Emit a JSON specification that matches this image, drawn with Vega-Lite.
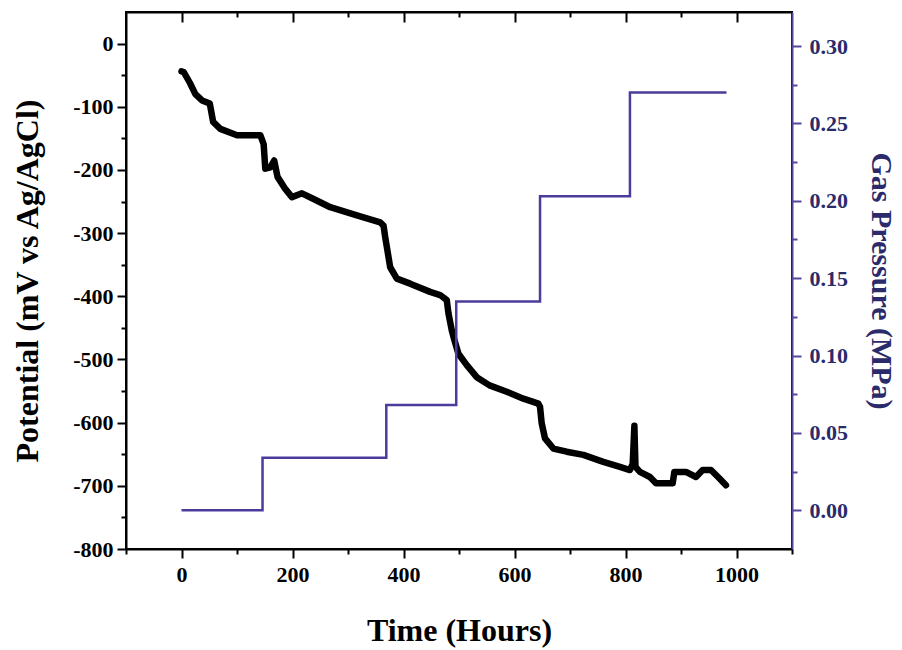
{
  "$schema": "https://vega.github.io/schema/vega-lite/v6.json",
  "width": 666,
  "height": 537,
  "autosize": {"type": "none"},
  "padding": {"left": 126, "top": 12, "right": 110, "bottom": 101},
  "background": "white",
  "config": {
    "view": {"stroke": "black", "strokeWidth": 2},
    "font": "Liberation Serif",
    "axis": {"grid": false, "labelFont": "Liberation Serif", "titleFont": "Liberation Serif", "labelFontWeight": "bold", "titleFontWeight": "bold", "labelFontSize": 22, "titleFontSize": 32, "domainWidth": 2, "tickWidth": 2}
  },
  "datasets": {
    "potential": [
      {"t": 0, "mv": -44}, {"t": 4, "mv": -45}, {"t": 15, "mv": -62}, {"t": 25, "mv": -80}, {"t": 37, "mv": -90},
      {"t": 51, "mv": -95}, {"t": 57, "mv": -124}, {"t": 70, "mv": -135}, {"t": 100, "mv": -145}, {"t": 142, "mv": -145},
      {"t": 148, "mv": -159}, {"t": 151, "mv": -198}, {"t": 160, "mv": -196}, {"t": 167, "mv": -185}, {"t": 173, "mv": -211},
      {"t": 187, "mv": -230}, {"t": 199, "mv": -243}, {"t": 217, "mv": -237}, {"t": 238, "mv": -246}, {"t": 268, "mv": -259},
      {"t": 316, "mv": -272}, {"t": 358, "mv": -283}, {"t": 364, "mv": -288}, {"t": 367, "mv": -306}, {"t": 376, "mv": -354},
      {"t": 388, "mv": -372}, {"t": 412, "mv": -380}, {"t": 448, "mv": -393}, {"t": 466, "mv": -398}, {"t": 478, "mv": -406},
      {"t": 481, "mv": -427}, {"t": 487, "mv": -454}, {"t": 490, "mv": -464}, {"t": 499, "mv": -491}, {"t": 514, "mv": -509},
      {"t": 532, "mv": -528}, {"t": 555, "mv": -541}, {"t": 586, "mv": -551}, {"t": 616, "mv": -562}, {"t": 643, "mv": -570},
      {"t": 646, "mv": -575}, {"t": 649, "mv": -601}, {"t": 655, "mv": -625}, {"t": 670, "mv": -641}, {"t": 694, "mv": -646},
      {"t": 724, "mv": -651}, {"t": 760, "mv": -662}, {"t": 790, "mv": -670}, {"t": 808, "mv": -675}, {"t": 813, "mv": -665},
      {"t": 816, "mv": -605}, {"t": 818, "mv": -670}, {"t": 826, "mv": -678}, {"t": 844, "mv": -686}, {"t": 855, "mv": -696},
      {"t": 885, "mv": -696}, {"t": 888, "mv": -678}, {"t": 909, "mv": -678}, {"t": 927, "mv": -686}, {"t": 939, "mv": -675},
      {"t": 954, "mv": -675}, {"t": 969, "mv": -688}, {"t": 981, "mv": -699}
    ],
    "pressure": [
      {"t": 0, "mpa": 0}, {"t": 146, "mpa": 0.034}, {"t": 369, "mpa": 0.068}, {"t": 495, "mpa": 0.135},
      {"t": 646, "mpa": 0.203}, {"t": 808, "mpa": 0.27}, {"t": 982, "mpa": 0.27}
    ]
  },
  "layer": [
    {
      "data": {"name": "potential"},
      "mark": {"type": "line", "color": "black", "strokeWidth": 6.5, "strokeJoin": "round", "strokeCap": "round"},
      "encoding": {
        "x": {
          "field": "t", "type": "quantitative",
          "scale": {"domain": [-100, 1100], "nice": false, "zero": false},
          "axis": {
            "orient": "bottom", "title": "Time (Hours)", "titlePadding": 30,
            "values": [-100, 0, 100, 200, 300, 400, 500, 600, 700, 800, 900, 1000, 1100],
            "labelExpr": "datum.value % 200 === 0 ? ('' + datum.value) : ''",
            "tickSize": {"condition": {"test": "datum.value % 200 === 0", "value": 9}, "value": 5},
            "labelPadding": 6, "labelColor": "black", "titleColor": "black", "domainColor": "black", "tickColor": "black"
          }
        },
        "y": {
          "field": "mv", "type": "quantitative",
          "scale": {"domain": [-800, 50], "nice": false, "zero": false},
          "axis": {
            "orient": "left", "title": "Potential (mV vs Ag/AgCl)", "titlePadding": 28,
            "values": [-800, -750, -700, -650, -600, -550, -500, -450, -400, -350, -300, -250, -200, -150, -100, -50, 0],
            "labelExpr": "datum.value % 100 === 0 ? ((datum.value < 0 ? '-' : '') + abs(datum.value)) : ''",
            "tickSize": {"condition": {"test": "datum.value % 100 === 0", "value": 9}, "value": 5},
            "labelPadding": 4, "labelColor": "black", "titleColor": "black", "domainColor": "black", "tickColor": "black"
          }
        }
      }
    },
    {
      "data": {"name": "pressure"},
      "mark": {"type": "line", "color": "#4a3c9c", "strokeWidth": 2.5, "interpolate": "step-after"},
      "encoding": {
        "x": {
          "field": "t", "type": "quantitative",
          "scale": {"domain": [-100, 1100], "nice": false, "zero": false},
          "axis": {
            "orient": "top", "title": null, "labels": false,
            "values": [0, 100, 200, 300, 400, 500, 600, 700, 800, 900, 1000],
            "tickSize": {"condition": {"test": "datum.value % 200 === 0", "value": -10}, "value": -5},
            "domainColor": "black", "tickColor": "black"
          }
        },
        "y": {
          "field": "mpa", "type": "quantitative",
          "scale": {"domain": [-0.025, 0.322], "nice": false, "zero": false},
          "axis": {
            "orient": "right", "title": "Gas Pressure (MPa)", "titlePadding": 18, "titleFontSize": 30, "format": ".2f",
            "values": [0, 0.025, 0.05, 0.075, 0.1, 0.125, 0.15, 0.175, 0.2, 0.225, 0.25, 0.275, 0.3],
            "labelExpr": "abs(datum.value * 20 - round(datum.value * 20)) < 0.000001 ? datum.label : ''",
            "tickSize": {"condition": {"test": "abs(datum.value * 20 - round(datum.value * 20)) < 0.000001", "value": 9}, "value": 5},
            "labelPadding": 8, "labelColor": "#2b2a6b", "titleColor": "#2b2a6b", "domainColor": "#55479e", "tickColor": "#55479e",
            "zindex": 1
          }
        }
      }
    }
  ],
  "resolve": {"scale": {"y": "independent"}}
}
